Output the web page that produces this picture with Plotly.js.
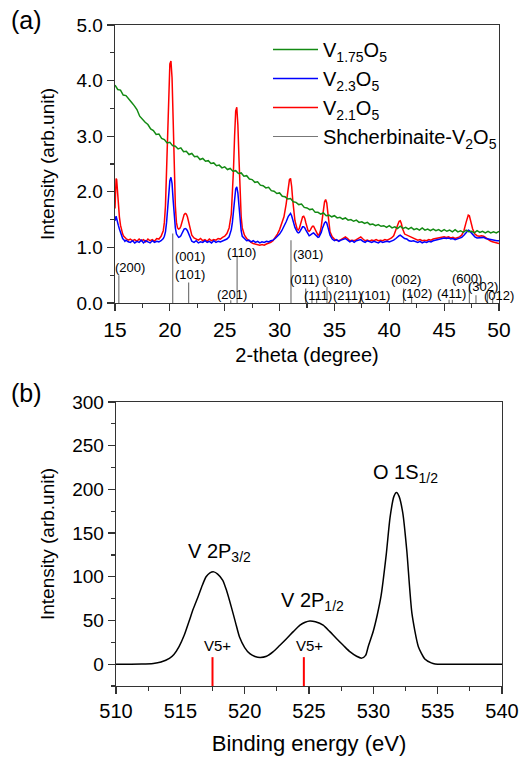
<!DOCTYPE html>
<html>
<head>
<meta charset="utf-8">
<script src="https://cdn.plot.ly/plotly-3.0.1.min.js"></script>
<style>html,body{margin:0;padding:0;background:#fff;}#chart{width:521px;height:757px;}</style>
</head>
<body>
<div id="chart"></div>
<script>
// ---------- (a) XRD data ----------
const twoTheta = [15.00,15.05,15.10,15.15,15.20,15.30,15.40,15.50,15.60,15.70,15.80,15.90,16.00,16.20,16.40,16.60,16.80,17.00,17.20,17.40,17.60,17.80,18.00,18.20,18.40,18.60,18.80,19.00,19.20,19.40,19.50,19.60,19.70,19.80,19.90,20.00,20.10,20.20,20.30,20.40,20.50,20.60,20.70,20.80,20.90,21.00,21.10,21.20,21.30,21.40,21.50,21.60,21.70,21.80,21.90,22.00,22.20,22.40,22.60,22.80,23.00,23.20,23.40,23.60,23.80,24.00,24.20,24.40,24.60,24.80,25.00,25.20,25.40,25.60,25.70,25.80,25.90,26.00,26.10,26.20,26.30,26.40,26.50,26.60,26.80,27.00,27.20,27.40,27.60,27.80,28.00,28.20,28.40,28.60,28.80,29.00,29.20,29.40,29.60,29.80,30.00,30.20,30.40,30.60,30.80,30.90,31.00,31.10,31.20,31.40,31.60,31.70,31.80,31.90,32.00,32.10,32.20,32.30,32.40,32.50,32.60,32.70,32.80,32.90,33.00,33.10,33.20,33.30,33.40,33.50,33.60,33.70,33.80,33.90,34.00,34.10,34.20,34.30,34.40,34.50,34.60,34.80,35.00,35.20,35.40,35.60,35.80,36.00,36.20,36.40,36.60,36.80,37.00,37.20,37.40,37.60,37.80,38.00,38.20,38.40,38.60,38.80,39.00,39.20,39.40,39.60,39.80,40.00,40.20,40.40,40.60,40.80,40.90,41.00,41.10,41.20,41.40,41.60,41.80,42.00,42.20,42.40,42.60,42.80,43.00,43.20,43.40,43.60,43.80,44.00,44.20,44.40,44.60,44.80,45.00,45.20,45.40,45.60,45.80,46.00,46.20,46.40,46.60,46.80,47.00,47.10,47.20,47.30,47.40,47.60,47.80,48.00,48.20,48.40,48.60,48.80,49.00,49.20,49.40,49.60,49.80,50.00];
const v21O5 = [1.70,2.05,2.24,2.22,2.05,1.78,1.55,1.40,1.30,1.24,1.20,1.17,1.16,1.13,1.15,1.12,1.14,1.11,1.15,1.12,1.14,1.10,1.15,1.12,1.14,1.11,1.16,1.15,1.20,1.30,1.45,1.75,2.40,3.20,3.90,4.30,4.35,4.05,3.30,2.40,1.75,1.45,1.35,1.33,1.34,1.38,1.46,1.54,1.59,1.61,1.60,1.55,1.46,1.36,1.27,1.22,1.17,1.15,1.13,1.16,1.12,1.14,1.11,1.15,1.12,1.14,1.13,1.16,1.15,1.18,1.20,1.25,1.35,1.60,1.90,2.40,3.00,3.45,3.52,3.20,2.60,1.95,1.55,1.35,1.22,1.16,1.12,1.09,1.07,1.06,1.05,1.04,1.05,1.04,1.06,1.07,1.09,1.12,1.17,1.24,1.32,1.42,1.55,1.78,2.10,2.22,2.24,2.10,1.85,1.48,1.33,1.31,1.34,1.42,1.50,1.55,1.56,1.52,1.44,1.35,1.30,1.29,1.31,1.35,1.38,1.38,1.34,1.28,1.24,1.22,1.23,1.28,1.38,1.55,1.72,1.82,1.86,1.80,1.62,1.42,1.28,1.19,1.15,1.13,1.12,1.14,1.16,1.19,1.16,1.12,1.13,1.12,1.14,1.17,1.19,1.15,1.12,1.13,1.11,1.13,1.12,1.14,1.12,1.13,1.12,1.14,1.13,1.15,1.17,1.21,1.30,1.42,1.47,1.48,1.43,1.34,1.24,1.22,1.20,1.18,1.16,1.15,1.13,1.14,1.12,1.13,1.12,1.14,1.13,1.15,1.16,1.17,1.18,1.19,1.19,1.18,1.19,1.17,1.18,1.16,1.17,1.19,1.22,1.30,1.45,1.54,1.58,1.57,1.50,1.33,1.24,1.21,1.20,1.21,1.20,1.17,1.14,1.12,1.10,1.09,1.08,1.07];
const v23O5 = [1.48,1.55,1.56,1.52,1.46,1.40,1.33,1.26,1.20,1.16,1.14,1.11,1.13,1.10,1.09,1.12,1.08,1.11,1.09,1.13,1.08,1.12,1.10,1.08,1.12,1.09,1.11,1.10,1.12,1.16,1.20,1.28,1.45,1.70,1.98,2.20,2.26,2.15,1.85,1.55,1.35,1.24,1.20,1.18,1.19,1.21,1.25,1.30,1.33,1.34,1.33,1.30,1.25,1.19,1.14,1.11,1.09,1.12,1.08,1.10,1.09,1.12,1.09,1.11,1.08,1.12,1.09,1.11,1.10,1.12,1.13,1.15,1.19,1.32,1.45,1.65,1.88,2.05,2.09,1.98,1.75,1.48,1.30,1.20,1.15,1.12,1.13,1.10,1.12,1.09,1.11,1.08,1.10,1.09,1.11,1.10,1.12,1.13,1.16,1.20,1.24,1.30,1.37,1.46,1.56,1.60,1.61,1.57,1.49,1.36,1.28,1.26,1.27,1.30,1.34,1.37,1.37,1.35,1.31,1.27,1.23,1.21,1.22,1.24,1.25,1.26,1.24,1.21,1.19,1.18,1.19,1.22,1.27,1.34,1.40,1.44,1.46,1.44,1.37,1.29,1.22,1.15,1.12,1.14,1.11,1.13,1.15,1.16,1.13,1.10,1.12,1.09,1.12,1.13,1.14,1.11,1.09,1.12,1.10,1.09,1.11,1.10,1.08,1.11,1.09,1.10,1.11,1.10,1.11,1.13,1.16,1.20,1.21,1.22,1.21,1.19,1.16,1.15,1.12,1.11,1.12,1.10,1.09,1.11,1.08,1.10,1.09,1.11,1.10,1.12,1.13,1.14,1.15,1.16,1.17,1.16,1.17,1.15,1.16,1.14,1.15,1.16,1.18,1.22,1.27,1.30,1.31,1.30,1.28,1.23,1.19,1.17,1.17,1.18,1.18,1.16,1.15,1.14,1.13,1.12,1.12,1.12];
const greenTheta = [15.00,15.25,15.50,15.75,16.00,16.25,16.50,16.75,17.00,17.25,17.50,17.75,18.00,18.25,18.50,18.75,19.00,19.25,19.50,19.75,20.00,20.25,20.50,20.75,21.00,21.25,21.50,21.75,22.00,22.25,22.50,22.75,23.00,23.25,23.50,23.75,24.00,24.25,24.50,24.75,25.00,25.25,25.50,25.75,26.00,26.25,26.50,26.75,27.00,27.25,27.50,27.75,28.00,28.25,28.50,28.75,29.00,29.25,29.50,29.75,30.00,30.25,30.50,30.75,31.00,31.25,31.50,31.75,32.00,32.25,32.50,32.75,33.00,33.25,33.50,33.75,34.00,34.25,34.50,34.75,35.00,35.25,35.50,35.75,36.00,36.25,36.50,36.75,37.00,37.25,37.50,37.75,38.00,38.25,38.50,38.75,39.00,39.25,39.50,39.75,40.00,40.25,40.50,40.75,41.00,41.25,41.50,41.75,42.00,42.25,42.50,42.75,43.00,43.25,43.50,43.75,44.00,44.25,44.50,44.75,45.00,45.25,45.50,45.75,46.00,46.25,46.50,46.75,47.00,47.25,47.50,47.75,48.00,48.25,48.50,48.75,49.00,49.25,49.50,49.75,50.00];
const v175O5 = [3.92,3.84,3.83,3.74,3.73,3.66,3.61,3.55,3.48,3.36,3.30,3.25,3.21,3.13,3.10,3.03,3.04,2.96,2.94,2.88,2.89,2.83,2.82,2.77,2.79,2.72,2.73,2.67,2.69,2.63,2.64,2.58,2.60,2.55,2.56,2.51,2.52,2.47,2.48,2.43,2.45,2.40,2.42,2.37,2.38,2.33,2.34,2.28,2.29,2.23,2.22,2.17,2.18,2.12,2.11,2.07,2.08,2.02,2.01,1.97,1.98,1.92,1.91,1.87,1.88,1.82,1.81,1.77,1.78,1.72,1.71,1.68,1.69,1.63,1.63,1.60,1.62,1.57,1.58,1.55,1.57,1.53,1.54,1.51,1.53,1.49,1.50,1.47,1.49,1.45,1.46,1.43,1.45,1.41,1.42,1.39,1.41,1.38,1.39,1.36,1.39,1.35,1.37,1.34,1.38,1.34,1.36,1.33,1.36,1.32,1.34,1.31,1.35,1.31,1.33,1.30,1.33,1.30,1.32,1.29,1.32,1.29,1.31,1.28,1.32,1.28,1.30,1.27,1.31,1.28,1.29,1.26,1.30,1.27,1.29,1.26,1.29,1.26,1.28,1.26,1.29];
// Shcherbinaite-V2O5 reference sticks
const stickPos = [15.35,20.26,21.71,25.55,26.13,31.04,32.38,32.95,33.38,34.32,36.3,37.37,41.3,42.03,45.45,45.75,47.3,47.9,48.95,49.42];
const stickHeight = [0.50,1.25,0.37,0.05,0.85,1.13,0.26,0.08,0.08,0.29,0.12,0.10,0.26,0.15,0.06,0.06,0.35,0.14,0.22,0.10];
// hkl labels
const hklText = ['(200)','(001)','(101)','(201)','(110)','(301)','(011)','(310)','(111)','(211)','(101)','(002)','(102)','(411)','(600)','(302)','(012)'];
const hklX = [16.4,21.8,21.8,25.7,26.55,32.6,32.3,35.25,33.5,36.2,38.7,41.5,42.55,45.7,47.1,48.5,50.0];
const hklY = [0.64,0.83,0.52,0.16,0.90,0.88,0.42,0.42,0.14,0.14,0.14,0.43,0.17,0.17,0.44,0.29,0.14];

// ---------- (b) XPS data ----------
const bindingEnergy = [510,511,512,512.9,513.5,514.15,514.5,514.9,515.3,515.7,516.0,516.4,516.7,517.0,517.3,517.6,517.9,518.3,518.6,518.96,519.3,519.6,520.0,520.4,520.8,521.2,521.7,522.2,522.7,523.25,523.8,524.3,524.7,525.07,525.5,526.1,526.6,527.15,527.7,528.2,528.7,529.1,529.4,529.6,530.0,530.3,530.6,531.0,531.3,531.6,531.8,532.0,532.3,532.6,533.0,533.5,534.0,534.5,534.8,535.5,537,540];
const xpsIntensity = [0,0,0.1,0.8,2.5,6.5,11,20,33,50,63,78,90,100,104.5,105.6,103,96,84,65.6,47,31,19,12,8.8,7.6,9,14,21,29,37.5,44.6,48,49.5,48.5,44.6,37.5,29,21,14,9,6.9,10,20,38,56,78,125,168,192,196.4,192,172,130,58,20,6,1.5,0.3,0,0,0];
const v5Pos = [517.5,524.6];
const v5Top = 8;
const peakLabels = ['V 2P<sub>3/2</sub>','V 2P<sub>1/2</sub>','O 1S<sub>1/2</sub>'];
const peakLabelX = [518.05,525.3,532.5];
const peakLabelY = [128,72,218];

// build stick traces
const sx = [], sy = [];
stickPos.forEach((p,i)=>{ sx.push(p,p,null); sy.push(0,stickHeight[i],null); });
const vx = [], vy = [];
v5Pos.forEach(p=>{ vx.push(p,p,null); vy.push(-25,v5Top,null); });

const FONT = 'Arial, "Liberation Sans", sans-serif';
const traces = [
  {x:sx, y:sy, mode:'lines', name:'Shcherbinaite-V<sub>2</sub>O<sub>5</sub>', line:{color:'#777', width:1.2}, legendrank:4, xaxis:'x', yaxis:'y'},
  {x:twoTheta, y:v21O5, mode:'lines', name:'V<sub>2.1</sub>O<sub>5</sub>', line:{color:'#ff0000', width:1.5}, legendrank:3, xaxis:'x', yaxis:'y'},
  {x:twoTheta, y:v23O5, mode:'lines', name:'V<sub>2.3</sub>O<sub>5</sub>', line:{color:'#0000ff', width:1.5}, legendrank:2, xaxis:'x', yaxis:'y'},
  {x:greenTheta, y:v175O5, mode:'lines', name:'V<sub>1.75</sub>O<sub>5</sub>', line:{color:'#138a13', width:1.5}, legendrank:1, xaxis:'x', yaxis:'y'},
  {x:vx, y:vy, mode:'lines', showlegend:false, line:{color:'#ff0000', width:2}, xaxis:'x2', yaxis:'y2'},
  {x:bindingEnergy, y:xpsIntensity, mode:'lines', showlegend:false, line:{color:'#000', width:1.5, shape:'spline', smoothing:0.6}, xaxis:'x2', yaxis:'y2'}
];

const annotations = [];
hklText.forEach((t,i)=>annotations.push({x:hklX[i], y:hklY[i], xref:'x', yref:'y', text:t, showarrow:false, font:{size:13, color:'#000', family:FONT}}));
peakLabels.forEach((t,i)=>annotations.push({x:peakLabelX[i], y:peakLabelY[i], xref:'x2', yref:'y2', text:t, showarrow:false, font:{size:20, color:'#000', family:FONT}}));
v5Pos.forEach(p=>annotations.push({x:p+0.4, y:21, xref:'x2', yref:'y2', text:'V5+', showarrow:false, font:{size:15, color:'#000', family:FONT}}));
annotations.push({x:26/521, y:1-20/757, xref:'paper', yref:'paper', xanchor:'center', yanchor:'middle', text:'(a)', showarrow:false, font:{size:25, color:'#000', family:FONT}});
annotations.push({x:26/521, y:1-393/757, xref:'paper', yref:'paper', xanchor:'center', yanchor:'middle', text:'(b)', showarrow:false, font:{size:25, color:'#000', family:FONT}});

const axBase = {showline:true, mirror:true, linecolor:'#333', linewidth:1.3, ticks:'outside', ticklen:7, tickwidth:1.2, tickcolor:'#333', showgrid:false, zeroline:false, color:'#000'};

const layout = {
  width:521, height:757,
  margin:{l:0,r:0,t:0,b:0},
  paper_bgcolor:'#fff', plot_bgcolor:'#fff',
  font:{family:FONT, color:'#000'},
  showlegend:true,
  legend:{x:268/521, y:1-30/757, xanchor:'left', yanchor:'top', bgcolor:'rgba(0,0,0,0)', font:{size:20, family:FONT}, itemwidth:45, tracegroupgap:0},
  xaxis:Object.assign({}, axBase, {domain:[115/521, 499/521], anchor:'y', range:[15,50], tick0:15, dtick:5, minor:{dtick:2.5, ticks:'outside', ticklen:4, tickcolor:'#333'}, tickfont:{size:21}, title:{text:'2-theta (degree)', font:{size:20}, standoff:8}}),
  yaxis:Object.assign({}, axBase, {domain:[1-303/757, 1-25/757], anchor:'x', range:[0,5], tick0:0, dtick:1, tickformat:'.1f', minor:{dtick:0.5, ticks:'outside', ticklen:4, tickcolor:'#333'}, tickfont:{size:19}, title:{text:'Intensity (arb.unit)', font:{size:19}, standoff:16}}),
  xaxis2:Object.assign({}, axBase, {domain:[116/521, 502/521], anchor:'y2', range:[510,540], tick0:510, dtick:5, minor:{dtick:2.5, ticks:'outside', ticklen:4, tickcolor:'#333'}, tickfont:{size:20}, title:{text:'Binding energy (eV)', font:{size:22}, standoff:14}}),
  yaxis2:Object.assign({}, axBase, {domain:[1-686/757, 1-402/757], anchor:'x2', range:[-25,300], tick0:0, dtick:50, minor:{tick0:0, dtick:25, ticks:'outside', ticklen:4, tickcolor:'#333'}, tickfont:{size:19}, title:{text:'Intensity (arb.unit)', font:{size:19}, standoff:12}}),
  annotations:annotations
};

Plotly.newPlot('chart', traces, layout, {displayModeBar:false, staticPlot:true});
</script>
</body>
</html>
